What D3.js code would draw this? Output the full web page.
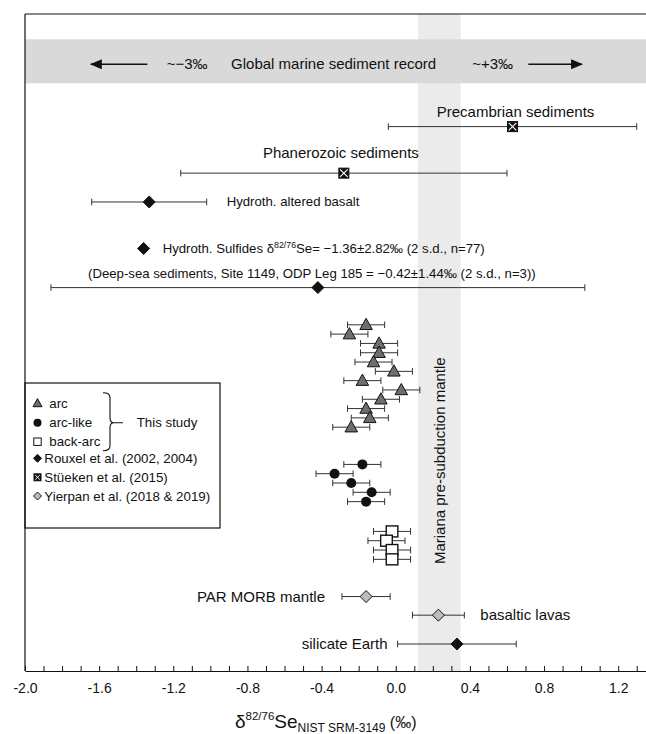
<!DOCTYPE html>
<html>
<head>
<meta charset="utf-8">
<script src="https://cdn.jsdelivr.net/npm/d3@7"></script>
<style>
  html, body { margin: 0; padding: 0; background: #fff; }
  svg { display: block; font-family: "Liberation Sans", Arial, sans-serif; }
</style>
</head>
<body>
<svg id="chart" width="646" height="734"></svg>
<script>
// ---- Data: δ82/76Se (‰, relative to NIST SRM-3149) with 2 s.d. ----
const arcDelta      = [-0.16, -0.25, -0.09, -0.09, -0.12, -0.01, -0.18, 0.03, -0.08, -0.16, -0.14, -0.24];
const arcErr        = [0.10, 0.10, 0.10, 0.10, 0.10, 0.10, 0.10, 0.10, 0.10, 0.10, 0.10, 0.10];
const arcLikeDelta  = [-0.18, -0.33, -0.24, -0.13, -0.16];
const arcLikeErr    = [0.10, 0.10, 0.10, 0.10, 0.10];
const backArcDelta  = [-0.02, -0.05, -0.02, -0.02];
const backArcErr    = [0.10, 0.10, 0.10, 0.10];

// Literature reservoirs
const refNames   = ["Precambrian sediments", "Phanerozoic sediments", "Hydroth. altered basalt",
                    "(Deep-sea sediments, Site 1149, ODP Leg 185 = \u22120.42\u00b11.44\u2030 (2 s.d., n=3))",
                    "PAR MORB mantle", "basaltic lavas", "silicate Earth"];
const refMean    = [0.63, -0.28, -1.33, -0.42, -0.16, 0.23, 0.33];
const refErr     = [0.67, 0.88, 0.31, 1.44, 0.13, 0.14, 0.32];
const refSource  = ["stueken", "stueken", "rouxel", "rouxel", "yierpan", "yierpan", "rouxel"];
const sulfideMean = -1.36;

// Mariana pre-subduction mantle range
const marianaRange = [0.12, 0.35];

// Axis
const xDomain    = [-2.0, 1.35];
const tickStep   = 0.1;
const labelEvery = 4;

// ---- Layout ----
const svg = d3.select("#chart");
const W = 646, H = 734;
const plotLeft = 25, plotTop = 14, axisY = 671;
const x = d3.scaleLinear().domain(xDomain).range([plotLeft, W]);
// vertical layout measured in row units (one sample row = one unit)
const y = d3.scaleLinear().domain([0, 70.6]).range([plotTop, axisY]);

const rows = {
  band: [2.72, 7.45], bandText: 5.4,
  preLabel: 10.5, pre: 12.1,
  phaLabel: 14.9, pha: 17.1,
  basalt: 20.2, sulfide: 25.2,
  deepLabel: 27.9, deep: 29.4,
  arc0: 33.4, arcLike0: 48.4, backArc0: 55.6,
  par: 62.6, lavas: 64.6, silicate: 67.7
};
const refRows = [rows.pre, rows.pha, rows.basalt, rows.deep, rows.par, rows.lavas, rows.silicate];

const ink = "#111";
const barInk = "#333";
const bigFont = 15, smallFont = 13.2, legendFont = 13.3;

// Mariana band (behind everything)
svg.append("rect")
  .attr("x", x(marianaRange[0])).attr("width", x(marianaRange[1]) - x(marianaRange[0]))
  .attr("y", plotTop).attr("height", axisY - plotTop)
  .attr("fill", "#ebebeb");

// Global marine sediment record band
svg.append("rect")
  .attr("x", plotLeft).attr("width", W - plotLeft)
  .attr("y", y(rows.band[0])).attr("height", y(rows.band[1]) - y(rows.band[0]))
  .attr("fill", "#d9d9d9");

svg.append("defs").append("marker")
  .attr("id", "arrow").attr("viewBox", "0 0 12 10")
  .attr("refX", 11).attr("refY", 5)
  .attr("markerWidth", 12).attr("markerHeight", 10)
  .attr("markerUnits", "userSpaceOnUse")
  .attr("orient", "auto")
  .append("path").attr("d", "M0,0 L12,5 L0,10 Z").attr("fill", ink);

const by = y(rows.bandText);
svg.append("line")
  .attr("x1", x(-1.34)).attr("x2", x(-1.645)).attr("y1", by).attr("y2", by)
  .attr("stroke", ink).attr("stroke-width", 1.3).attr("marker-end", "url(#arrow)");
svg.append("line")
  .attr("x1", x(0.715)).attr("x2", x(1.005)).attr("y1", by).attr("y2", by)
  .attr("stroke", ink).attr("stroke-width", 1.3).attr("marker-end", "url(#arrow)");

const bandText = [
  {t: "~\u22123\u2030", v: -1.125},
  {t: "Global marine sediment record", v: -0.335},
  {t: "~+3\u2030", v: 0.523}
];
svg.selectAll("text.band").data(bandText).join("text")
  .attr("class", "band")
  .attr("x", d => x(d.v)).attr("y", by + 5)
  .attr("text-anchor", "middle").attr("font-size", bigFont).attr("fill", ink)
  .text(d => d.t);

// Mariana label
const mx = x((marianaRange[0] + marianaRange[1]) / 2) + 1;
svg.append("text")
  .attr("transform", `translate(${mx + 5},${y(48.0)}) rotate(-90)`)
  .attr("text-anchor", "middle").attr("font-size", bigFont).attr("fill", ink)
  .text("Mariana pre-subduction mantle");

// ---- Marker helpers ----
function errorBar(g, v, e, cy) {
  const cap = 3.3;
  g.append("line").attr("x1", x(v - e)).attr("x2", x(v + e)).attr("y1", cy).attr("y2", cy)
    .attr("stroke", barInk).attr("stroke-width", 1);
  [v - e, v + e].forEach(p => g.append("line")
    .attr("x1", x(p)).attr("x2", x(p)).attr("y1", cy - cap).attr("y2", cy + cap)
    .attr("stroke", barInk).attr("stroke-width", 1));
}
function diamond(g, cx, cy, r, fill) {
  g.append("path").attr("d", `M${cx},${cy - r}L${cx + r},${cy}L${cx},${cy + r}L${cx - r},${cy}Z`)
    .attr("fill", fill).attr("stroke", ink).attr("stroke-width", 1);
}
function crossBox(g, cx, cy, s) {
  g.append("rect").attr("x", cx - s / 2).attr("y", cy - s / 2).attr("width", s).attr("height", s)
    .attr("fill", ink).attr("stroke", ink).attr("stroke-width", 1);
  const k = s / 2 - 1.2;
  g.append("path").attr("d", `M${cx - k},${cy - k}L${cx + k},${cy + k}M${cx + k},${cy - k}L${cx - k},${cy + k}`)
    .attr("stroke", "#fff").attr("stroke-width", Math.max(1, s / 9));
}
function triangle(g, cx, cy, s, fill) {
  const h = s * 0.9;
  g.append("path").attr("d", `M${cx},${cy - h * 0.58}L${cx + s / 2},${cy + h * 0.42}L${cx - s / 2},${cy + h * 0.42}Z`)
    .attr("fill", fill).attr("stroke", ink).attr("stroke-width", 1);
}

const marks = svg.append("g");

// Literature reservoirs
refMean.forEach((m, i) => {
  const cy = y(refRows[i]);
  errorBar(marks, m, refErr[i], cy);
  const src = refSource[i];
  if (src === "stueken") crossBox(marks, x(m), cy, 10);
  else if (src === "rouxel") diamond(marks, x(m), cy, 6, ink);
  else diamond(marks, x(m), cy, 6, "#bdbdbd");
});

// Hydrothermal sulfides (mean only)
diamond(marks, x(sulfideMean), y(rows.sulfide), 6, ink);

// This study: arc, arc-like, back-arc
arcDelta.forEach((v, i) => errorBar(marks, v, arcErr[i], y(rows.arc0 + i)));
arcDelta.forEach((v, i) => triangle(marks, x(v), y(rows.arc0 + i), 12.5, "#6e6e6e"));

arcLikeDelta.forEach((v, i) => errorBar(marks, v, arcLikeErr[i], y(rows.arcLike0 + i)));
arcLikeDelta.forEach((v, i) => marks.append("circle")
  .attr("cx", x(v)).attr("cy", y(rows.arcLike0 + i)).attr("r", 5).attr("fill", ink));

backArcDelta.forEach((v, i) => {
  const cy = y(rows.backArc0 + i);
  errorBar(marks, v, backArcErr[i], cy);
  marks.append("rect").attr("x", x(v) - 5.8).attr("y", cy - 5.5).attr("width", 11.6).attr("height", 11)
    .attr("fill", "#fff").attr("stroke", ink).attr("stroke-width", 1.4);
});

// ---- Reservoir labels ----
const lab = svg.append("g").attr("fill", ink);
lab.append("text").attr("x", x(refMean[0]) + 3).attr("y", y(rows.preLabel) + 5)
  .attr("text-anchor", "middle").attr("font-size", bigFont).text(refNames[0]);
lab.append("text").attr("x", x(refMean[1]) - 3).attr("y", y(rows.phaLabel) + 5)
  .attr("text-anchor", "middle").attr("font-size", bigFont).text(refNames[1]);
lab.append("text").attr("x", x(refMean[2] + refErr[2]) + 20).attr("y", y(rows.basalt) + 4.5)
  .attr("font-size", smallFont).text(refNames[2]);

const sulf = lab.append("text").attr("x", x(sulfideMean) + 19).attr("y", y(rows.sulfide) + 4.5)
  .attr("font-size", smallFont);
sulf.append("tspan").text("Hydroth. Sulfides \u03b4");
sulf.append("tspan").attr("font-size", 8.8).attr("dy", -5).text("82/76");
sulf.append("tspan").attr("dy", 5).text("Se= \u22121.36\u00b12.82\u2030 (2 s.d., n=77)");

lab.append("text").attr("x", x(refMean[3]) - 6).attr("y", y(rows.deepLabel) + 4.5)
  .attr("text-anchor", "middle").attr("font-size", smallFont).text(refNames[3]);

lab.append("text").attr("x", x(refMean[4] - refErr[4]) - 17).attr("y", y(rows.par) + 5)
  .attr("text-anchor", "end").attr("font-size", bigFont).text(refNames[4]);
lab.append("text").attr("x", x(refMean[5] + refErr[5]) + 16).attr("y", y(rows.lavas) + 5)
  .attr("font-size", bigFont).text(refNames[5]);
lab.append("text").attr("x", x(refMean[6] - refErr[6]) - 10).attr("y", y(rows.silicate) + 5)
  .attr("text-anchor", "end").attr("font-size", bigFont).text(refNames[6]);

// ---- Legend ----
const lg = svg.append("g");
const lgTop = 383, lgBottom = 528, lgRight = 220;
lg.append("rect").attr("x", plotLeft).attr("y", lgTop).attr("width", lgRight - plotLeft).attr("height", lgBottom - lgTop)
  .attr("fill", "#fff").attr("stroke", ink).attr("stroke-width", 1.2);
const lgX = 37.5;
const legendItems = [
  {t: "arc", yy: 403.3, kind: "tri"},
  {t: "arc-like", yy: 422.7, kind: "circ"},
  {t: "back-arc", yy: 441.7, kind: "sq"},
  {t: "Rouxel et al. (2002, 2004)", yy: 458.3, kind: "rouxel"},
  {t: "St\u00fceken et al. (2015)", yy: 477.3, kind: "stueken"},
  {t: "Yierpan et al. (2018 & 2019)", yy: 496, kind: "yierpan"}
];
legendItems.forEach(d => {
  if (d.kind === "tri") triangle(lg, lgX, d.yy, 9, "#6e6e6e");
  else if (d.kind === "circ") lg.append("circle").attr("cx", lgX).attr("cy", d.yy).attr("r", 4).attr("fill", ink);
  else if (d.kind === "sq") lg.append("rect").attr("x", lgX - 3.7).attr("y", d.yy - 3.7).attr("width", 7.4).attr("height", 7.4)
    .attr("fill", "#fff").attr("stroke", ink).attr("stroke-width", 1);
  else if (d.kind === "rouxel") diamond(lg, lgX, d.yy, 4, ink);
  else if (d.kind === "stueken") crossBox(lg, lgX, d.yy, 7);
  else diamond(lg, lgX, d.yy, 4, "#bdbdbd");
  const short = ["tri", "circ", "sq"].includes(d.kind);
  lg.append("text").attr("x", short ? 49.3 : 44.3).attr("y", d.yy + 4.6)
    .attr("font-size", legendFont).attr("fill", ink).text(d.t);
});
// brace grouping the three sample types
lg.append("path")
  .attr("d", "M103,392.7 Q110,392.7 110,397.5 V418 Q110,422.7 114,422.7 H123 M114,422.7 Q110,422.7 110,427.5 V446 Q110,450.7 103,450.7")
  .attr("fill", "none").attr("stroke", ink).attr("stroke-width", 1.1);
lg.append("text").attr("x", 136.7).attr("y", 422.7 + 4.6).attr("font-size", legendFont).attr("fill", ink).text("This study");

// ---- Frame and axis ----
svg.append("line").attr("x1", plotLeft).attr("x2", plotLeft).attr("y1", plotTop).attr("y2", axisY)
  .attr("stroke", ink).attr("stroke-width", 1.2);
svg.append("line").attr("x1", plotLeft).attr("x2", W).attr("y1", plotTop).attr("y2", plotTop)
  .attr("stroke", ink).attr("stroke-width", 1.2);

const tickVals = d3.range(Math.round(xDomain[0] / tickStep), Math.round(1.3 / tickStep) + 1).map(i => i * tickStep);
const fmt = d3.formatLocale({decimal: ".", thousands: ",", grouping: [3], currency: ["", ""], minus: "-"}).format(".1f");
const axis = d3.axisBottom(x)
  .tickValues(tickVals)
  .tickSizeInner(-5).tickSizeOuter(0).tickPadding(12)
  .tickFormat((d, i) => (i % labelEvery === 0 ? fmt(d) : ""));
const ax = svg.append("g").attr("transform", `translate(0,${axisY})`).call(axis);
ax.select(".domain").attr("stroke", ink).attr("stroke-width", 1.2);
ax.selectAll(".tick line").attr("stroke", ink);
ax.selectAll(".tick text").attr("font-size", 14).attr("fill", ink)
  .attr("font-family", "'Liberation Sans', Arial, sans-serif");

// Axis title
const title = svg.append("text").attr("x", 235).attr("y", 728).attr("fill", ink).attr("font-size", 19);
title.append("tspan").text("\u03b4");
title.append("tspan").attr("font-size", 11.5).attr("dy", -8).text("82/76");
title.append("tspan").attr("dy", 8).text("Se");
title.append("tspan").attr("font-size", 12).attr("dy", 4).text("NIST SRM-3149");
title.append("tspan").attr("font-size", 16).attr("dy", -4).text(" (\u2030)");
</script>
</body>
</html>
